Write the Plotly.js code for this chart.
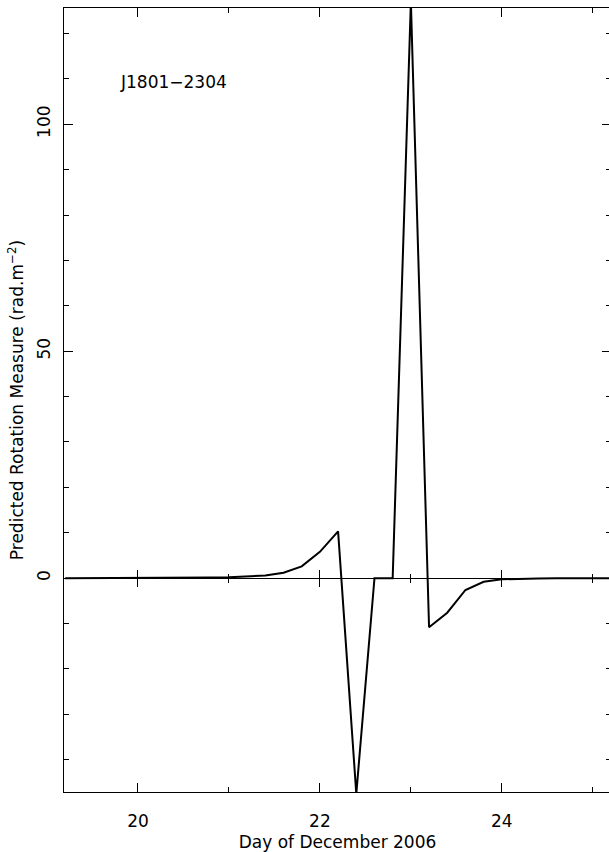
<!DOCTYPE html>
<html><head><meta charset="utf-8">
<script src="https://cdn.plot.ly/plotly-3.0.1.min.js"></script>
<style>html,body{margin:0;padding:0;overflow:hidden;background:#fff}</style>
</head><body><div id="chart"></div>
<script>
const days = [19.2,19.4,19.6,19.8,20.0,20.2,20.4,20.6,20.8,21.0,21.2,21.4,21.6,21.8,22.0,22.2,22.4,22.6,22.8,23.0,23.2,23.4,23.6,23.8,24.0,24.2,24.4,24.6,24.8,25.0,25.2];
const rm   = [0.0,0.0,0.01,0.01,0.02,0.03,0.05,0.08,0.13,0.2,0.35,0.6,1.2,2.6,5.8,10.3,-47.5,0,0,127,-10.8,-7.6,-2.6,-0.8,-0.25,-0.1,-0.05,-0.02,-0.01,0,0];
const xRange = [19.187, 25.2];
const yRange = [-47.1, 125.6];
const xTickVals = [20,22,24];
const yTickVals = [0,50,100];
const pulsar = 'J1801\u22122304';
const xTitle = 'Day of December 2006';
const yTitle = 'Predicted Rotation Measure (rad.m<sup>\u22122</sup>)';

const font = {family:'DejaVu Sans, Liberation Sans, sans-serif', size:17, color:'#000'};
const zeroPos = (0 - yRange[0])/(yRange[1]-yRange[0]);

const baseX = {range:xRange, tickmode:'array', tickvals:xTickVals, showgrid:false, zeroline:false};
const layout = {
  width:611, height:852,
  margin:{l:64, r:0, t:8, b:60},
  paper_bgcolor:'#fff', plot_bgcolor:'#fff',
  font:font, showlegend:false,
  xaxis:Object.assign({}, baseX, {
    showline:true, linecolor:'#000', linewidth:1, mirror:'ticks',
    ticks:'inside', ticklen:9, tickwidth:1, tickcolor:'#000',
    ticklabelstandoff:14,
    minor:{dtick:1, ticks:'inside', ticklen:5, tickwidth:1, tickcolor:'#000'},
    title:{text:xTitle, font:font, standoff:8}
  }),
  xaxis2:Object.assign({}, baseX, {
    overlaying:'x', matches:'x', anchor:'free', position:zeroPos,
    showline:true, linecolor:'#000', linewidth:1,
    ticks:'outside', ticklen:8, tickwidth:1, tickcolor:'#000', showticklabels:false,
    minor:{dtick:1, ticks:'outside', ticklen:4, tickwidth:1, tickcolor:'#000'}
  }),
  xaxis3:Object.assign({}, baseX, {
    overlaying:'x', matches:'x', anchor:'free', position:zeroPos,
    showline:false,
    ticks:'inside', ticklen:8, tickwidth:1, tickcolor:'#000', showticklabels:false,
    minor:{dtick:1, ticks:'inside', ticklen:4, tickwidth:1, tickcolor:'#000'}
  }),
  yaxis:{
    range:yRange, tickmode:'array', tickvals:yTickVals, showgrid:false, zeroline:false,
    showline:true, linecolor:'#000', linewidth:1, mirror:'ticks',
    ticks:'inside', ticklen:9, tickwidth:1, tickcolor:'#000',
    tickangle:-90, ticklabelstandoff:6,
    minor:{dtick:10, ticks:'inside', ticklen:5, tickwidth:1, tickcolor:'#000'},
    title:{text:yTitle, font:font, standoff:6}
  },
  annotations:[{text:pulsar, xref:'paper', yref:'paper', x:0.0987, y:0.9056,
    xanchor:'left', yanchor:'middle', showarrow:false, font:font}]
};
const traces = [
  {x:days, y:rm, type:'scatter', mode:'lines', line:{color:'#000', width:2}, hoverinfo:'skip'},
  {x:xRange, y:[null,null], xaxis:'x2', type:'scatter', mode:'lines', hoverinfo:'skip'},
  {x:xRange, y:[null,null], xaxis:'x3', type:'scatter', mode:'lines', hoverinfo:'skip'}
];
Plotly.newPlot('chart', traces, layout, {displayModeBar:false, staticPlot:true});
</script></body></html>
